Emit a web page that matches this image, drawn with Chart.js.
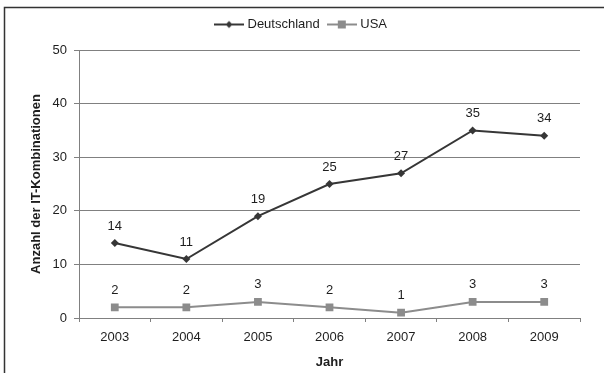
<!DOCTYPE html>
<html>
<head>
<meta charset="utf-8">
<script src="https://cdn.jsdelivr.net/npm/chart.js@4/dist/chart.umd.min.js"></script>
<style>
  html, body { margin: 0; padding: 0; background: #fff; }
</style>
</head>
<body>
<canvas id="chart" width="604" height="373"></canvas>
<script>
// data
const years = ['2003', '2004', '2005', '2006', '2007', '2008', '2009'];
const deutschland = [14, 11, 19, 25, 27, 35, 34];
const usa = [2, 2, 3, 2, 1, 3, 3];
const yTicks = [0, 10, 20, 30, 40, 50];

const deColor = '#363636';
const usColor = '#8c8c8c';
const textColor = '#1e1e1e';
const fontFamily = '"Liberation Sans", Arial, sans-serif';

// little line + marker picture for the legend
function legendIcon(color, style) {
    const c = document.createElement('canvas');
    c.width = 30; c.height = 10;
    const g = c.getContext('2d');
    g.strokeStyle = color;
    g.fillStyle = color;
    g.lineWidth = 2;
    g.beginPath(); g.moveTo(0, 5); g.lineTo(30, 5); g.stroke();
    g.beginPath();
    if (style == 'diamond') {
        g.moveTo(15, 1.5); g.lineTo(18.5, 5); g.lineTo(15, 8.5); g.lineTo(11.5, 5);
    } else {
        g.rect(11, 1, 8, 8);
    }
    g.fill();
    return c;
}
const icons = [legendIcon(deColor, 'diamond'), legendIcon(usColor, 'square')];

// values above the points
const valueLabels = {
    id: 'valueLabels',
    afterDatasetsDraw(chart) {
        const ctx = chart.ctx;
        ctx.save();
        ctx.font = '13px ' + fontFamily;
        ctx.fillStyle = textColor;
        ctx.textAlign = 'center';
        ctx.textBaseline = 'middle';
        chart.data.datasets.forEach((ds, i) => {
            chart.getDatasetMeta(i).data.forEach((pt, j) => {
                ctx.fillText(ds.data[j], pt.x, pt.y - 17);
            });
        });
        ctx.restore();
    }
};

// outer frame
const frame = {
    id: 'frame',
    afterDraw(chart) {
        const ctx = chart.ctx;
        ctx.save();
        ctx.strokeStyle = '#333';
        ctx.lineWidth = 1.5;
        ctx.strokeRect(4.5, 7.5, 640, 400);
        ctx.restore();
    }
};

// extra room under the legend
const legendMargin = {
    id: 'legendMargin',
    beforeInit(chart) {
        const fit = chart.legend.fit;
        chart.legend.fit = function () {
            fit.bind(chart.legend)();
            this.height += 9;
        };
    }
};

const ctx = document.getElementById('chart').getContext('2d');
new Chart(ctx, {
    type: 'line',
    data: {
        labels: years,
        datasets: [
            {
                label: 'Deutschland',
                data: deutschland,
                borderColor: deColor,
                backgroundColor: deColor,
                borderWidth: 2,
                pointStyle: 'rectRot',
                pointRadius: 4,
                pointBorderWidth: 0,
                tension: 0
            },
            {
                label: 'USA',
                data: usa,
                borderColor: usColor,
                backgroundColor: usColor,
                borderWidth: 2,
                pointStyle: 'rect',
                pointRadius: 5.5,
                pointBorderWidth: 0,
                tension: 0
            }
        ]
    },
    options: {
        responsive: false,
        animation: false,
        layout: { padding: { left: 24, right: 24, top: 8, bottom: 0 } },
        scales: {
            x: {
                offset: true,
                grid: {
                    display: true,
                    drawOnChartArea: false,
                    offset: true,
                    tickLength: 4,
                    color: '#808080'
                },
                border: { color: '#808080', width: 1 },
                ticks: {
                    color: textColor,
                    padding: 8,
                    font: { family: fontFamily, size: 13 }
                },
                title: {
                    display: true,
                    text: 'Jahr',
                    color: textColor,
                    padding: { top: 0, bottom: 3 },
                    font: { family: fontFamily, size: 13, weight: 'bold' }
                },
                afterFit(scale) { scale.height = 55; }
            },
            y: {
                min: 0,
                max: 50,
                afterBuildTicks(scale) {
                    scale.ticks = yTicks.map(v => ({ value: v }));
                },
                grid: {
                    color: '#808080',
                    tickLength: 5,
                    lineWidth: 1
                },
                border: { color: '#808080', width: 1 },
                ticks: {
                    color: textColor,
                    padding: 7,
                    font: { family: fontFamily, size: 13 }
                },
                title: {
                    display: true,
                    text: 'Anzahl der IT-Kombinationen',
                    color: textColor,
                    padding: { top: 5, bottom: 0 },
                    font: { family: fontFamily, size: 13, weight: 'bold' }
                },
                afterFit(scale) { scale.width = 55; }
            }
        },
        plugins: {
            legend: {
                position: 'top',
                labels: {
                    usePointStyle: true,
                    pointStyleWidth: 24,
                    padding: 10,
                    color: textColor,
                    font: { family: fontFamily, size: 13 },
                    generateLabels(chart) {
                        return chart.data.datasets.map((ds, i) => ({
                            text: ds.label,
                            pointStyle: icons[i],
                            fillStyle: ds.borderColor,
                            strokeStyle: ds.borderColor,
                            lineWidth: 0,
                            hidden: false,
                            datasetIndex: i,
                            fontColor: textColor
                        }));
                    }
                }
            },
            tooltip: { enabled: false }
        }
    },
    plugins: [valueLabels, frame, legendMargin]
});
</script>
</body>
</html>
